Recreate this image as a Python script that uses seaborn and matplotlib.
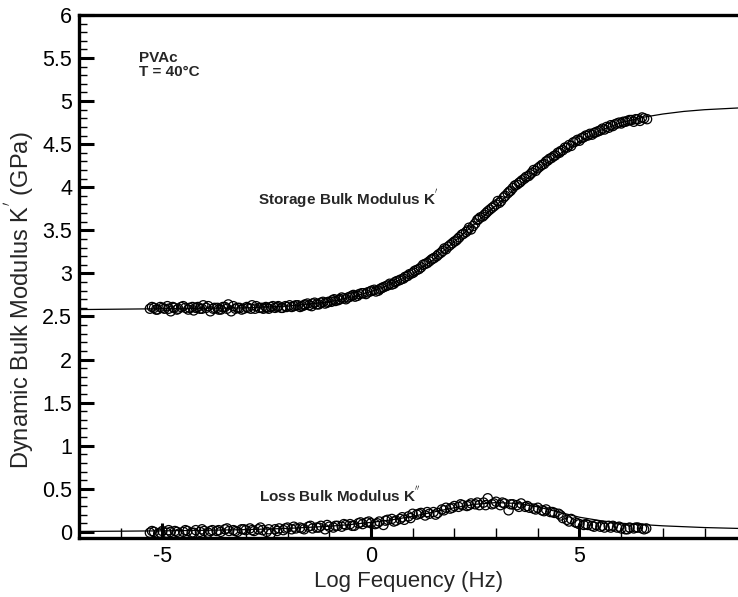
import numpy as np
import pandas as pd
import matplotlib
matplotlib.use("Agg")
import matplotlib.pyplot as plt
from matplotlib.ticker import MultipleLocator, FormatStrFormatter
import seaborn as sns

# Storage bulk modulus K' measurements, first sweep (log Hz, GPa)
storage_logf = [
    -5.30, -5.20, -5.12, -5.05, -4.95, -4.88, -4.80, -4.72, -4.62, -4.55,
    -4.45, -4.38, -4.28, -4.20, -4.10, -4.02, -3.95, -3.85, -3.78, -3.68,
    -3.60, -3.50, -3.42, -3.35, -3.25, -3.15, -3.05, -2.95, -2.85, -2.78,
    -2.68, -2.58, -2.50, -2.40, -2.30, -2.22, -2.12, -2.02, -1.95, -1.85,
    -1.75, -1.65, -1.58, -1.48, -1.40, -1.30, -1.20, -1.10, -1.02, -0.92,
    -0.85, -0.75, -0.65, -0.55, -0.45, -0.38, -0.28, -0.18, -0.08, 0.02,
    0.12, 0.22, 0.30, 0.40, 0.50, 0.58, 0.68, 0.78, 0.88, 0.98,
    1.05, 1.15, 1.25, 1.35, 1.45, 1.52, 1.62, 1.72, 1.80, 1.90,
    2.00, 2.08, 2.18, 2.28, 2.35, 2.45, 2.55, 2.62, 2.72, 2.80,
    2.90, 3.00, 3.08, 3.18, 3.28, 3.35, 3.45, 3.55, 3.62, 3.72,
    3.82, 3.90, 4.00, 4.10, 4.20, 4.28, 4.38, 4.48, 4.55, 4.65,
    4.75, 4.85, 4.95, 5.05, 5.15, 5.25, 5.35, 5.45, 5.55, 5.65,
    5.75, 5.85, 5.95, 6.05, 6.15, 6.25, 6.35, 6.45, 6.55,
]
storage_k = [
    2.59, 2.60, 2.58, 2.61, 2.59, 2.62, 2.56, 2.60, 2.59, 2.61,
    2.60, 2.58, 2.61, 2.60, 2.59, 2.63, 2.60, 2.56, 2.59, 2.60,
    2.58, 2.61, 2.64, 2.56, 2.59, 2.60, 2.59, 2.60, 2.63, 2.59,
    2.60, 2.59, 2.60, 2.61, 2.60, 2.62, 2.60, 2.61, 2.63, 2.62,
    2.63, 2.62, 2.64, 2.63, 2.65, 2.64, 2.66, 2.65, 2.67, 2.69,
    2.68, 2.70, 2.71, 2.72, 2.74, 2.73, 2.76, 2.77, 2.78, 2.80,
    2.79, 2.82, 2.84, 2.86, 2.87, 2.90, 2.92, 2.94, 2.97, 3.00,
    3.03, 3.05, 3.10, 3.12, 3.16, 3.18, 3.22, 3.26, 3.28, 3.33,
    3.37, 3.40, 3.45, 3.48, 3.53, 3.55, 3.62, 3.65, 3.68, 3.72,
    3.76, 3.80, 3.82, 3.88, 3.93, 3.96, 4.02, 4.05, 4.08, 4.12,
    4.15, 4.20, 4.22, 4.26, 4.30, 4.33, 4.36, 4.40, 4.42, 4.46,
    4.49, 4.52, 4.55, 4.57, 4.60, 4.62, 4.63, 4.65, 4.68, 4.70,
    4.72, 4.73, 4.75, 4.76, 4.77, 4.78, 4.79, 4.77, 4.80,
]

# Storage bulk modulus K' measurements, second sweep
storage_logf_b = [
    -5.25, -5.15, -5.00, -4.85, -4.75, -4.65, -4.50, -4.35, -4.25, -4.15,
    -4.05, -3.90, -3.75, -3.65, -3.55, -3.45, -3.30, -3.20, -3.10, -2.98,
    -2.88, -2.75, -2.62, -2.52, -2.45, -2.35, -2.25, -2.15, -2.05, -1.90,
    -1.80, -1.70, -1.60, -1.52, -1.42, -1.35, -1.25, -1.15, -1.05, -0.95,
    -0.88, -0.78, -0.70, -0.60, -0.50, -0.42, -0.32, -0.22, -0.12, -0.02,
    0.08, 0.18, 0.26, 0.35, 0.45, 0.55, 0.62, 0.72, 0.82, 0.92,
    1.02, 1.10, 1.20, 1.30, 1.40, 1.48, 1.58, 1.68, 1.76, 1.85,
    1.95, 2.04, 2.12, 2.22, 2.32, 2.40, 2.50, 2.58, 2.68, 2.76,
    2.85, 2.95, 3.04, 3.12, 3.22, 3.32, 3.40, 3.50, 3.58, 3.68,
    3.78, 3.86, 3.95, 4.05, 4.15, 4.24, 4.33, 4.42, 4.52, 4.60,
    4.70, 4.80, 4.90, 5.00, 5.10, 5.20, 5.30, 5.40, 5.50, 5.60,
    5.70, 5.80, 5.90, 6.00, 6.10, 6.20, 6.30, 6.40, 6.50, 6.62,
]
storage_k_b = [
    2.61, 2.58, 2.60, 2.59, 2.61, 2.58, 2.62, 2.60, 2.57, 2.61,
    2.59, 2.62, 2.60, 2.58, 2.61, 2.59, 2.62, 2.60, 2.58, 2.61,
    2.59, 2.62, 2.60, 2.61, 2.59, 2.62, 2.61, 2.60, 2.62, 2.61,
    2.63, 2.61, 2.63, 2.65, 2.62, 2.66, 2.64, 2.67, 2.66, 2.67,
    2.70, 2.69, 2.72, 2.70, 2.73, 2.75, 2.74, 2.77, 2.76, 2.79,
    2.81, 2.80, 2.83, 2.85, 2.88, 2.88, 2.91, 2.93, 2.96, 2.99,
    3.01, 3.04, 3.07, 3.11, 3.14, 3.17, 3.20, 3.24, 3.29, 3.31,
    3.35, 3.38, 3.42, 3.46, 3.50, 3.51, 3.58, 3.63, 3.66, 3.70,
    3.74, 3.78, 3.84, 3.84, 3.90, 3.95, 3.99, 4.03, 4.06, 4.10,
    4.13, 4.17, 4.19, 4.24, 4.27, 4.31, 4.34, 4.37, 4.40, 4.43,
    4.46, 4.48, 4.53, 4.54, 4.58, 4.60, 4.61, 4.64, 4.66, 4.67,
    4.69, 4.71, 4.74, 4.74, 4.76, 4.78, 4.76, 4.79, 4.81, 4.79,
]

# Loss bulk modulus K'' measurements, first sweep (log Hz, GPa)
loss_logf = [
    -5.30, -5.20, -5.10, -5.00, -4.90, -4.80, -4.70, -4.60, -4.50, -4.40,
    -4.30, -4.20, -4.10, -4.00, -3.90, -3.80, -3.70, -3.60, -3.50, -3.40,
    -3.30, -3.20, -3.10, -3.00, -2.90, -2.80, -2.70, -2.60, -2.50, -2.40,
    -2.30, -2.20, -2.10, -2.00, -1.90, -1.80, -1.70, -1.60, -1.50, -1.40,
    -1.30, -1.20, -1.10, -1.00, -0.90, -0.80, -0.70, -0.60, -0.50, -0.40,
    -0.30, -0.20, -0.10, 0.00, 0.10, 0.20, 0.30, 0.40, 0.50, 0.60,
    0.70, 0.80, 0.90, 1.00, 1.10, 1.20, 1.30, 1.40, 1.50, 1.60,
    1.70, 1.80, 1.90, 2.00, 2.10, 2.20, 2.30, 2.40, 2.50, 2.60,
    2.70, 2.80, 2.90, 3.00, 3.10, 3.20, 3.30, 3.40, 3.50, 3.60,
    3.70, 3.80, 3.90, 4.00, 4.10, 4.20, 4.30, 4.40, 4.50, 4.60,
    4.70, 4.80, 4.90, 5.00, 5.10, 5.20, 5.30, 5.40, 5.50, 5.60,
    5.70, 5.80, 5.90, 6.00, 6.10, 6.20, 6.30, 6.40, 6.50, 6.60,
]
loss_k = [
    -0.01, 0.00, -0.02, 0.01, -0.01, 0.00, 0.01, -0.02, 0.00, 0.01,
    -0.01, 0.02, 0.00, 0.01, -0.01, 0.02, 0.01, 0.00, 0.03, 0.01,
    0.02, 0.00, 0.03, 0.02, 0.04, 0.01, 0.03, 0.02, 0.00, -0.02,
    0.03, 0.04, 0.02, 0.05, 0.03, 0.04, 0.05, 0.03, 0.06, 0.04,
    0.05, 0.07, 0.03, 0.06, 0.05, 0.07, 0.06, 0.08, 0.09, 0.07,
    0.10, 0.09, 0.11, 0.10, 0.09, 0.12, 0.08, 0.14, 0.15, 0.13,
    0.15, 0.14, 0.18, 0.21, 0.20, 0.22, 0.19, 0.21, 0.23, 0.22,
    0.26, 0.28, 0.27, 0.30, 0.29, 0.31, 0.30, 0.33, 0.32, 0.31,
    0.34, 0.39, 0.32, 0.35, 0.31, 0.33, 0.25, 0.32, 0.31, 0.33,
    0.29, 0.28, 0.27, 0.28, 0.25, 0.26, 0.23, 0.22, 0.21, 0.16,
    0.14, 0.15, 0.11, 0.09, 0.08, 0.08, 0.07, 0.08, 0.06, 0.05,
    0.07, 0.07, 0.05, 0.04, 0.03, 0.05, 0.04, 0.05, 0.04, 0.04,
]

# Loss bulk modulus K'' measurements, second sweep
loss_logf_b = [
    -5.25, -5.05, -4.85, -4.65, -4.45, -4.25, -4.05, -3.85, -3.65, -3.45,
    -3.25, -3.05, -2.85, -2.65, -2.45, -2.25, -2.05, -1.85, -1.65, -1.45,
    -1.25, -1.05, -0.85, -0.65, -0.45, -0.25, -0.05, 0.15, 0.35, 0.55,
    0.75, 0.95, 1.15, 1.35, 1.55, 1.75, 1.95, 2.15, 2.35, 2.55,
    2.75, 2.95, 3.15, 3.35, 3.55, 3.75, 3.95, 4.15, 4.35, 4.55,
    4.75, 4.95, 5.15, 5.35, 5.55, 5.75, 5.95, 6.15, 6.35, 6.55,
]
loss_k_b = [
    0.01, -0.01, 0.02, 0.00, 0.02, -0.01, 0.03, 0.01, 0.02, 0.04,
    0.01, 0.03, 0.02, 0.05, 0.03, 0.01, 0.04, 0.06, 0.04, 0.07,
    0.05, 0.08, 0.07, 0.09, 0.07, 0.11, 0.12, 0.10, 0.13, 0.12,
    0.17, 0.16, 0.21, 0.23, 0.20, 0.25, 0.28, 0.32, 0.31, 0.34,
    0.31, 0.33, 0.34, 0.32, 0.29, 0.30, 0.26, 0.24, 0.23, 0.19,
    0.12, 0.10, 0.09, 0.06, 0.07, 0.05, 0.06, 0.03, 0.05, 0.03,
]

# Model fit curves
fit_logf = [-7.0, -6.0, -5.0, -4.0, -3.0, -2.0, -1.0, -0.5, 0.0, 0.5,
            1.0, 1.5, 2.0, 2.5, 3.0, 3.5, 4.0, 4.5, 5.0, 5.5,
            6.0, 6.5, 7.0, 7.5, 8.0, 8.8]
fit_storage = [2.58, 2.585, 2.59, 2.595, 2.60, 2.62, 2.67, 2.72, 2.79, 2.88,
               2.99, 3.16, 3.37, 3.58, 3.79, 4.00, 4.20, 4.38, 4.53, 4.66,
               4.75, 4.81, 4.85, 4.88, 4.90, 4.92]
fit_loss = [0.005, 0.008, 0.012, 0.018, 0.026, 0.04, 0.065, 0.085, 0.11, 0.14,
            0.18, 0.23, 0.28, 0.32, 0.34, 0.33, 0.29, 0.23, 0.17, 0.13,
            0.10, 0.085, 0.07, 0.06, 0.05, 0.04]

sns.set_theme(style="white")
plt.rcParams["font.family"] = ["Liberation Sans", "DejaVu Sans"]
plt.rcParams["axes.unicode_minus"] = False

fig = plt.figure(figsize=(7.38, 5.97), dpi=100)
ax = fig.add_axes([0.107, 0.099, 0.893, 0.876])

fits = pd.DataFrame({"logf": fit_logf * 2,
                     "K": fit_storage + fit_loss,
                     "part": ["storage"] * len(fit_logf) + ["loss"] * len(fit_logf)})
sns.lineplot(data=fits, x="logf", y="K", units="part", estimator=None,
             color="black", linewidth=0.9, ax=ax, sort=False)

points = pd.DataFrame({
    "logf": storage_logf + storage_logf_b + loss_logf + loss_logf_b,
    "K": storage_k + storage_k_b + loss_k + loss_k_b,
})
sns.scatterplot(data=points, x="logf", y="K", marker="o", s=44,
                facecolor="none", edgecolor="black", linewidth=0.9, ax=ax)

ax.set_xlim(-7, 8.8)
ax.set_ylim(-0.07, 6)

ax.xaxis.set_major_locator(MultipleLocator(5))
ax.xaxis.set_minor_locator(MultipleLocator(1))
ax.yaxis.set_major_locator(MultipleLocator(0.5))
ax.yaxis.set_minor_locator(MultipleLocator(0.1))
ax.yaxis.set_major_formatter(FormatStrFormatter("%g"))

ax.tick_params(axis="both", which="both", direction="in", colors="black",
               labelsize=15.5, top=False, right=False, bottom=True, left=True)
ax.tick_params(axis="y", which="major", length=11, width=2.2, pad=5)
ax.tick_params(axis="y", which="minor", length=6, width=1)
ax.tick_params(axis="x", which="major", length=11, width=2.2, pad=6)
ax.tick_params(axis="x", which="minor", length=7, width=1)

for side in ("left", "bottom", "top"):
    ax.spines[side].set_color("black")
    ax.spines[side].set_linewidth(2.4)
ax.spines["right"].set_visible(False)

ax.set_xlabel("Log Fequency (Hz)", fontsize=16, labelpad=3)
ax.set_ylabel("Dynamic Bulk Modulus K$^{'}$ (GPa)", fontsize=17)
ax.yaxis.set_label_coords(-0.064, 0.455)

ax.text(-5.55, 5.58, "PVAc\nT = 40\u00b0C", fontsize=11, fontweight="bold",
        va="top", ha="left", linespacing=0.95)
ax.text(-0.55, 3.87, "Storage Bulk Modulus K$^{'}$", fontsize=11,
        fontweight="bold", ha="center", va="center")
ax.text(-0.75, 0.42, "Loss Bulk Modulus K$^{''}$", fontsize=11,
        fontweight="bold", ha="center", va="center")

fig.savefig("out.png", dpi=100)
